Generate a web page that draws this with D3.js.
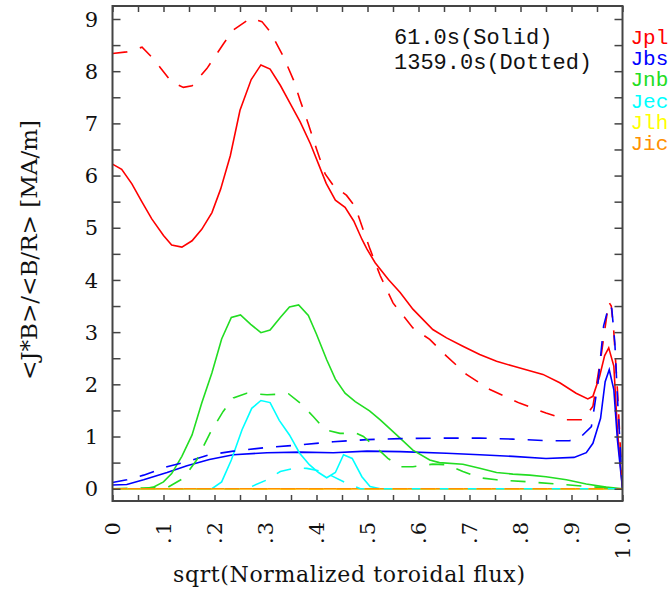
<!DOCTYPE html>
<html>
<head>
<meta charset="utf-8">
<script src="https://cdn.jsdelivr.net/npm/d3@7"></script>
<style>
  body { margin: 0; background: #fff; }
  svg { display: block; }
</style>
</head>
<body>
<div class="chart"></div>
<script>
// profiles: [rho, value]
var jplSolid = [[0,6.22],[0.018,6.12],[0.038,5.84],[0.058,5.49],[0.077,5.17],[0.1,4.85],[0.116,4.67],[0.136,4.63],[0.156,4.75],[0.175,4.97],[0.195,5.29],[0.212,5.74],[0.231,6.38],[0.25,7.25],[0.272,7.84],[0.291,8.12],[0.309,8.04],[0.329,7.73],[0.348,7.39],[0.368,7.03],[0.388,6.61],[0.404,6.22],[0.419,5.85],[0.437,5.53],[0.456,5.39],[0.473,5.13],[0.489,4.78],[0.499,4.59],[0.515,4.33],[0.541,4.01],[0.564,3.76],[0.589,3.44],[0.628,3.05],[0.655,2.89],[0.687,2.73],[0.72,2.57],[0.753,2.44],[0.785,2.35],[0.811,2.28],[0.844,2.19],[0.877,2.03],[0.909,1.83],[0.932,1.72],[0.942,1.77],[0.955,2.15],[0.965,2.55],[0.973,2.70],[0.983,2.35],[0.99,1.13],[1.0,0]];
var jplDotted = [[0,8.34],[0.028,8.37],[0.058,8.46],[0.08,8.24],[0.116,7.79],[0.139,7.69],[0.156,7.72],[0.185,8.05],[0.218,8.53],[0.237,8.79],[0.27,9.01],[0.293,8.95],[0.309,8.76],[0.335,8.28],[0.355,7.83],[0.368,7.44],[0.384,6.99],[0.4,6.51],[0.417,6.03],[0.433,5.81],[0.459,5.62],[0.476,5.40],[0.492,4.95],[0.505,4.59],[0.525,4.08],[0.55,3.56],[0.589,3.08],[0.622,2.86],[0.655,2.54],[0.694,2.19],[0.74,1.90],[0.798,1.64],[0.85,1.45],[0.89,1.32],[0.923,1.32],[0.942,1.58],[0.958,2.54],[0.973,3.58],[0.978,3.50],[0.983,3.0],[0.99,1.9],[1.0,0]];
var jbsSolid = [[0,0.07],[0.028,0.08],[0.061,0.17],[0.107,0.31],[0.146,0.44],[0.19,0.56],[0.237,0.65],[0.303,0.69],[0.368,0.70],[0.433,0.69],[0.499,0.72],[0.564,0.71],[0.655,0.68],[0.72,0.65],[0.785,0.62],[0.85,0.58],[0.905,0.60],[0.929,0.69],[0.942,0.87],[0.957,1.35],[0.966,2.05],[0.974,2.28],[0.983,1.90],[0.99,0.94],[1.0,0]];
var jbsDotted = [[0,0.12],[0.028,0.17],[0.061,0.26],[0.107,0.42],[0.146,0.52],[0.19,0.65],[0.237,0.72],[0.303,0.79],[0.368,0.84],[0.433,0.90],[0.499,0.94],[0.564,0.96],[0.655,0.97],[0.72,0.97],[0.785,0.95],[0.85,0.92],[0.896,0.92],[0.916,0.97],[0.939,1.19],[0.952,2.03],[0.963,3.12],[0.974,3.53],[0.979,3.45],[0.985,2.79],[0.991,1.58],[1.0,0]];
var jnbSolid = [[0,0],[0.061,0],[0.08,0.03],[0.1,0.13],[0.116,0.29],[0.136,0.62],[0.156,1.03],[0.175,1.64],[0.195,2.22],[0.214,2.87],[0.233,3.28],[0.251,3.33],[0.271,3.15],[0.291,2.99],[0.309,3.04],[0.329,3.28],[0.347,3.48],[0.365,3.52],[0.384,3.32],[0.4,2.96],[0.42,2.47],[0.437,2.10],[0.456,1.83],[0.476,1.67],[0.504,1.49],[0.525,1.32],[0.557,1.03],[0.589,0.74],[0.622,0.55],[0.641,0.50],[0.687,0.47],[0.72,0.39],[0.753,0.31],[0.785,0.28],[0.818,0.26],[0.85,0.23],[0.89,0.17],[0.929,0.09],[0.968,0.03],[1.0,0]];
var jnbDotted = [[0,0],[0.107,0.02],[0.139,0.2],[0.165,0.55],[0.191,1.06],[0.217,1.48],[0.237,1.74],[0.263,1.83],[0.303,1.80],[0.345,1.82],[0.368,1.64],[0.394,1.38],[0.417,1.13],[0.446,1.06],[0.479,1.06],[0.492,1.0],[0.518,0.78],[0.54,0.58],[0.566,0.42],[0.589,0.42],[0.628,0.47],[0.655,0.46],[0.687,0.33],[0.72,0.21],[0.753,0.17],[0.818,0.13],[0.883,0.08],[0.949,0.03],[1.0,0]];
var jecSolid = [[0,0],[0.195,0],[0.214,0.13],[0.233,0.55],[0.254,1.13],[0.273,1.54],[0.291,1.69],[0.309,1.65],[0.327,1.31],[0.347,1.03],[0.367,0.68],[0.386,0.46],[0.404,0.31],[0.42,0.21],[0.437,0.31],[0.453,0.65],[0.47,0.58],[0.489,0.23],[0.505,0.04],[0.525,0],[1.0,0]];
var jecDotted = [[0,0],[0.263,0],[0.303,0.17],[0.329,0.33],[0.361,0.40],[0.381,0.39],[0.407,0.34],[0.427,0.26],[0.46,0.10],[0.486,0],[1.0,0]];
var jlhSolid = [[0,0],[1.0,0]];
var jlhDotted = [[0,0],[1.0,0]];
var jicSolid = [[0,0],[1.0,0]];
var jicDotted = [[0,0],[1.0,0]];

var names = ["Jpl", "Jbs", "Jnb", "Jec", "Jlh", "Jic"];
var colors = ["#ff0000", "#0000ff", "#22dd22", "#00ffff", "#ffff00", "#ff9000"];
var solidSet = [jplSolid, jbsSolid, jnbSolid, jecSolid, jlhSolid, jicSolid];
var dottedSet = [jplDotted, jbsDotted, jnbDotted, jecDotted, jlhDotted, jicDotted];

var xTicks = d3.range(0, 11).map(function(i) { return i / 10; });
var xTickLabels = ["0", ".1", ".2", ".3", ".4", ".5", ".6", ".7", ".8", ".9", "1.0"];
var yTicks = d3.range(0, 10);
var timeLabels = ["61.0s(Solid)", "1359.0s(Dotted)"];

var width = 669, height = 591;
// plot box edges (note: "top" is taken by window.top)
var boxL = 112.5, boxR = 622.5, boxT = 6, boxB = 501;

var svg = d3.select(".chart").append("svg")
    .attr("width", width)
    .attr("height", height);

var x = d3.scaleLinear().domain([0, 1]).range([boxL, boxR]);
var y = d3.scaleLinear().domain([0, 9]).range([488.7, 19]);

svg.append("clipPath").attr("id", "box")
  .append("rect")
    .attr("x", boxL).attr("y", boxT)
    .attr("width", boxR - boxL).attr("height", boxB - boxT);

var line = d3.line()
    .x(function(d) { return x(d[0]); })
    .y(function(d) { return y(d[1]); });

var plot = svg.append("g").attr("clip-path", "url(#box)");

// solid set first, then the dashed one on top
solidSet.forEach(function(s, i) {
  plot.append("path")
    .attr("d", line(s))
    .attr("fill", "none")
    .attr("stroke", colors[i])
    .attr("stroke-width", 1.6);
});
dottedSet.forEach(function(s, i) {
  plot.append("path")
    .attr("d", line(s))
    .attr("fill", "none")
    .attr("stroke", colors[i])
    .attr("stroke-width", 1.6)
    .attr("stroke-dasharray", "15,13");
});

// ticks on all four sides, pointing in
var xMinor = d3.range(0, 21).map(function(i) { return i / 20; });
var yMinor = d3.range(0, 19).map(function(i) { return i / 2; });

function styleAxis(g) {
  g.select(".domain").remove();
  g.selectAll("line").attr("stroke", "#444").attr("stroke-width", 1.5);
}

svg.append("g").attr("transform", "translate(0," + boxB + ")")
  .call(d3.axisBottom(x).tickValues(xMinor).tickSize(-6).tickFormat(""))
  .call(styleAxis);
svg.append("g").attr("transform", "translate(0," + boxT + ")")
  .call(d3.axisTop(x).tickValues(xMinor).tickSize(-6).tickFormat(""))
  .call(styleAxis);
svg.append("g").attr("transform", "translate(" + boxL + ",0)")
  .call(d3.axisLeft(y).tickValues(yMinor).tickSize(-8).tickFormat(""))
  .call(styleAxis);
svg.append("g").attr("transform", "translate(" + boxR + ",0)")
  .call(d3.axisRight(y).tickValues(yMinor).tickSize(-8).tickFormat(""))
  .call(styleAxis);

svg.append("rect")
    .attr("x", boxL).attr("y", boxT)
    .attr("width", boxR - boxL).attr("height", boxB - boxT)
    .attr("fill", "none")
    .attr("stroke", "#444")
    .attr("stroke-width", 2);

var serif = "'DejaVu Serif', serif";
var mono = "'Liberation Mono', 'DejaVu Sans Mono', monospace";

// y tick labels
svg.append("g").selectAll("text")
  .data(yTicks)
  .enter().append("text")
    .attr("x", 98)
    .attr("y", function(d) { return y(d); })
    .attr("dy", "0.36em")
    .attr("text-anchor", "end")
    .style("font-family", serif)
    .style("font-size", "21px")
    .attr("fill", "#111")
    .text(function(d) { return d; });

// x tick labels, rotated
svg.append("g").selectAll("text")
  .data(xTicks)
  .enter().append("text")
    .attr("transform", function(d) { return "translate(" + x(d) + ",520) rotate(-90)"; })
    .attr("dy", "0.36em")
    .attr("text-anchor", "end")
    .style("font-family", serif)
    .style("font-size", "21px")
    .style("letter-spacing", "2px")
    .attr("fill", "#111")
    .text(function(d, i) { return xTickLabels[i]; });

// axis titles
svg.append("text")
    .attr("x", 349)
    .attr("y", 582)
    .attr("text-anchor", "middle")
    .attr("textLength", 352)
    .attr("lengthAdjust", "spacing")
    .style("font-family", serif)
    .style("font-size", "22px")
    .attr("fill", "#111")
    .text("sqrt(Normalized toroidal flux)");

svg.append("text")
    .attr("transform", "translate(37,250) rotate(-90)")
    .attr("text-anchor", "middle")
    .attr("textLength", 260)
    .attr("lengthAdjust", "spacingAndGlyphs")
    .style("font-family", serif)
    .style("font-size", "22px")
    .attr("fill", "#111")
    .text("<J*B>/<B/R> [MA/m]");

// time notes
svg.append("g").selectAll("text")
  .data(timeLabels)
  .enter().append("text")
    .attr("x", 394)
    .attr("y", function(d, i) { return 44 + i * 25; })
    .style("font-family", mono)
    .style("font-size", "22px")
    .attr("fill", "#111")
    .text(function(d) { return d; });

// legend on the right
svg.append("g").selectAll("text")
  .data(names)
  .enter().append("text")
    .attr("x", 630.5)
    .attr("y", function(d, i) { return 44 + i * 21.2; })
    .style("font-family", mono)
    .style("font-size", "21px")
    .attr("fill", function(d, i) { return colors[i]; })
    .text(function(d) { return d; });
</script>
</body>
</html>
